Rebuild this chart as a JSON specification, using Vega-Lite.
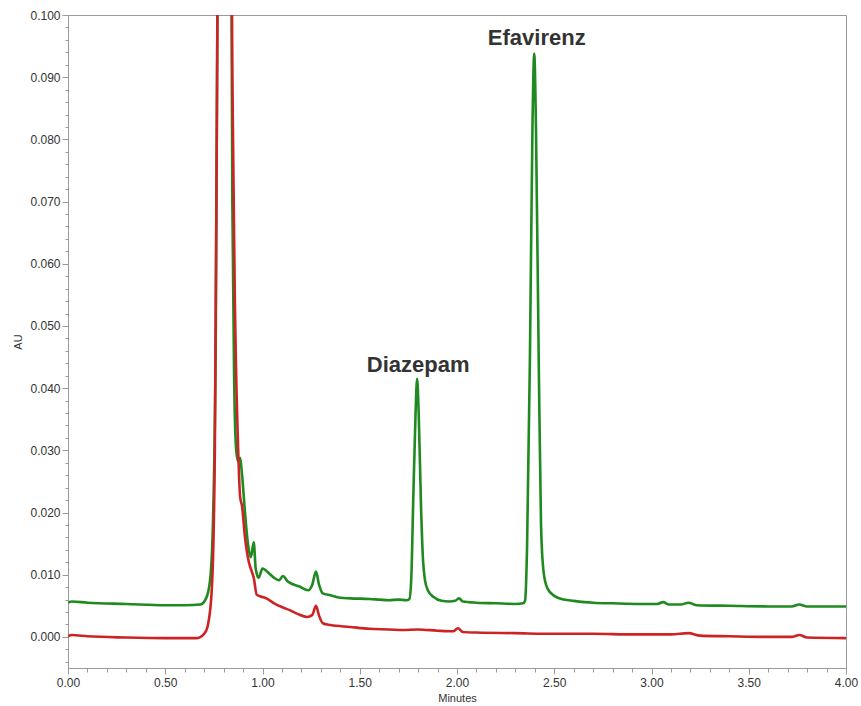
{
  "$schema": "https://vega.github.io/schema/vega-lite/v6.json",
  "width": 778,
  "height": 653,
  "autosize": {"type": "none"},
  "padding": {"left": 68, "top": 15, "right": 15, "bottom": 38},
  "background": "white",
  "config": {
    "view": {"stroke": "#9a9a9a", "strokeWidth": 1},
    "font": "Liberation Sans",
    "axis": {
      "domainColor": "#9a9a9a",
      "tickColor": "#9a9a9a",
      "labelColor": "#333333",
      "labelFontSize": 12,
      "labelFont": "Liberation Sans",
      "titleFont": "Liberation Sans",
      "titleFontSize": 11,
      "titleFontWeight": "normal",
      "titleColor": "#333333",
      "grid": false,
      "labelOverlap": false,
      "labelFlush": false
    }
  },
  "datasets": {
    "green": [
      {"t": 0.00, "au": 0.0055}, {"t": 0.02, "au": 0.0057}, {"t": 0.10, "au": 0.0055},
      {"t": 0.30, "au": 0.0053}, {"t": 0.50, "au": 0.0051}, {"t": 0.60, "au": 0.0051},
      {"t": 0.68, "au": 0.0052}, {"t": 0.71, "au": 0.0062}, {"t": 0.73, "au": 0.0090},
      {"t": 0.745, "au": 0.018}, {"t": 0.76, "au": 0.05}, {"t": 0.775, "au": 0.15},
      {"t": 0.80, "au": 0.30}, {"t": 0.835, "au": 0.15}, {"t": 0.845, "au": 0.07},
      {"t": 0.855, "au": 0.040}, {"t": 0.865, "au": 0.030}, {"t": 0.875, "au": 0.0282},
      {"t": 0.885, "au": 0.0288}, {"t": 0.895, "au": 0.026}, {"t": 0.91, "au": 0.020},
      {"t": 0.925, "au": 0.015}, {"t": 0.94, "au": 0.0128}, {"t": 0.955, "au": 0.0152},
      {"t": 0.965, "au": 0.011}, {"t": 0.98, "au": 0.0095}, {"t": 1.00, "au": 0.0110},
      {"t": 1.02, "au": 0.0106}, {"t": 1.06, "au": 0.0095}, {"t": 1.085, "au": 0.0091},
      {"t": 1.105, "au": 0.0098}, {"t": 1.13, "au": 0.0089}, {"t": 1.19, "au": 0.0081},
      {"t": 1.235, "au": 0.0075}, {"t": 1.255, "au": 0.0083}, {"t": 1.275, "au": 0.0105},
      {"t": 1.29, "au": 0.0085}, {"t": 1.31, "au": 0.0070}, {"t": 1.35, "au": 0.0067},
      {"t": 1.40, "au": 0.0063}, {"t": 1.45, "au": 0.0062}, {"t": 1.55, "au": 0.0061},
      {"t": 1.60, "au": 0.0060}, {"t": 1.65, "au": 0.0059}, {"t": 1.70, "au": 0.0060},
      {"t": 1.74, "au": 0.0059}, {"t": 1.755, "au": 0.0061}, {"t": 1.765, "au": 0.0095},
      {"t": 1.775, "au": 0.022}, {"t": 1.787, "au": 0.036}, {"t": 1.795, "au": 0.0415},
      {"t": 1.803, "au": 0.036}, {"t": 1.815, "au": 0.021}, {"t": 1.825, "au": 0.0125},
      {"t": 1.835, "au": 0.0092}, {"t": 1.85, "au": 0.0075}, {"t": 1.88, "au": 0.0064},
      {"t": 1.92, "au": 0.0058}, {"t": 1.96, "au": 0.0057}, {"t": 1.99, "au": 0.0058},
      {"t": 2.01, "au": 0.0062}, {"t": 2.03, "au": 0.0057}, {"t": 2.10, "au": 0.0055},
      {"t": 2.20, "au": 0.0054}, {"t": 2.30, "au": 0.0053}, {"t": 2.34, "au": 0.0054},
      {"t": 2.35, "au": 0.0058}, {"t": 2.36, "au": 0.014}, {"t": 2.375, "au": 0.045},
      {"t": 2.388, "au": 0.082}, {"t": 2.397, "au": 0.0938}, {"t": 2.406, "au": 0.082},
      {"t": 2.42, "au": 0.045}, {"t": 2.432, "au": 0.018}, {"t": 2.445, "au": 0.0105},
      {"t": 2.465, "au": 0.0078}, {"t": 2.50, "au": 0.0066}, {"t": 2.55, "au": 0.0060},
      {"t": 2.60, "au": 0.0058}, {"t": 2.70, "au": 0.0055}, {"t": 2.80, "au": 0.0054},
      {"t": 2.95, "au": 0.0053}, {"t": 3.03, "au": 0.0053}, {"t": 3.06, "au": 0.0056},
      {"t": 3.09, "au": 0.0052}, {"t": 3.15, "au": 0.0052}, {"t": 3.19, "au": 0.0055},
      {"t": 3.23, "au": 0.0051}, {"t": 3.40, "au": 0.0050}, {"t": 3.60, "au": 0.0049},
      {"t": 3.72, "au": 0.0049}, {"t": 3.76, "au": 0.0052}, {"t": 3.80, "au": 0.0049},
      {"t": 3.90, "au": 0.0049}, {"t": 4.00, "au": 0.0049}
    ],
    "red": [
      {"t": 0.00, "au": 0.0001}, {"t": 0.02, "au": 0.0003}, {"t": 0.10, "au": 0.0001},
      {"t": 0.30, "au": -0.0001}, {"t": 0.50, "au": -0.0002}, {"t": 0.66, "au": -0.0002},
      {"t": 0.70, "au": 0.0005}, {"t": 0.72, "au": 0.002}, {"t": 0.74, "au": 0.008},
      {"t": 0.755, "au": 0.03}, {"t": 0.77, "au": 0.11}, {"t": 0.80, "au": 0.30},
      {"t": 0.835, "au": 0.15}, {"t": 0.845, "au": 0.09}, {"t": 0.86, "au": 0.050},
      {"t": 0.875, "au": 0.030}, {"t": 0.885, "au": 0.0225}, {"t": 0.895, "au": 0.021},
      {"t": 0.91, "au": 0.016}, {"t": 0.93, "au": 0.012}, {"t": 0.945, "au": 0.0105},
      {"t": 0.955, "au": 0.0095}, {"t": 0.97, "au": 0.0068}, {"t": 0.99, "au": 0.0065},
      {"t": 1.02, "au": 0.0062}, {"t": 1.06, "au": 0.0054}, {"t": 1.10, "au": 0.0048},
      {"t": 1.14, "au": 0.0043}, {"t": 1.18, "au": 0.0037}, {"t": 1.23, "au": 0.0032},
      {"t": 1.255, "au": 0.0035}, {"t": 1.275, "au": 0.0050}, {"t": 1.29, "au": 0.0035},
      {"t": 1.31, "au": 0.0022}, {"t": 1.35, "au": 0.0019}, {"t": 1.45, "au": 0.0016},
      {"t": 1.55, "au": 0.0013}, {"t": 1.65, "au": 0.0012}, {"t": 1.72, "au": 0.0011},
      {"t": 1.80, "au": 0.0012}, {"t": 1.90, "au": 0.0010}, {"t": 1.98, "au": 0.0009},
      {"t": 2.005, "au": 0.0014}, {"t": 2.03, "au": 0.0008}, {"t": 2.10, "au": 0.0007},
      {"t": 2.30, "au": 0.0006}, {"t": 2.50, "au": 0.0005}, {"t": 2.70, "au": 0.0005},
      {"t": 2.90, "au": 0.0004}, {"t": 3.10, "au": 0.0004}, {"t": 3.19, "au": 0.0006},
      {"t": 3.25, "au": 0.0002}, {"t": 3.40, "au": 0.0001}, {"t": 3.60, "au": 0.0000},
      {"t": 3.72, "au": 0.0000}, {"t": 3.76, "au": 0.0003}, {"t": 3.80, "au": -0.0001},
      {"t": 4.00, "au": -0.0002}
    ],
    "labels": [
      {"t": 1.80, "au": 0.0437, "name": "Diazepam"},
      {"t": 2.41, "au": 0.0963, "name": "Efavirenz"}
    ]
  },
  "encoding": {
    "x": {
      "field": "t", "type": "quantitative",
      "scale": {"domain": [0, 4], "nice": false, "zero": false},
      "axis": {
        "title": "Minutes",
        "titlePadding": 4,
        "labelPadding": 3,
        "values": [0, 0.1, 0.2, 0.3, 0.4, 0.5, 0.6, 0.7, 0.8, 0.9, 1, 1.1, 1.2, 1.3, 1.4, 1.5, 1.6, 1.7, 1.8, 1.9, 2, 2.1, 2.2, 2.3, 2.4, 2.5, 2.6, 2.7, 2.8, 2.9, 3, 3.1, 3.2, 3.3, 3.4, 3.5, 3.6, 3.7, 3.8, 3.9, 4],
        "labelExpr": "abs(datum.value*2 - round(datum.value*2)) < 0.001 ? format(datum.value, '.2f') : ''",
        "tickSize": {"condition": {"test": "abs(datum.value*2 - round(datum.value*2)) < 0.001", "value": 6}, "value": 4}
      }
    },
    "y": {
      "field": "au", "type": "quantitative",
      "scale": {"domain": [-0.005, 0.1], "nice": false, "zero": false},
      "axis": {
        "title": "AU",
        "titlePadding": 6,
        "labelPadding": 2,
        "values": [-0.004, -0.002, 0, 0.002, 0.004, 0.006, 0.008, 0.01, 0.012, 0.014, 0.016, 0.018, 0.02, 0.022, 0.024, 0.026, 0.028, 0.03, 0.032, 0.034, 0.036, 0.038, 0.04, 0.042, 0.044, 0.046, 0.048, 0.05, 0.052, 0.054, 0.056, 0.058, 0.06, 0.062, 0.064, 0.066, 0.068, 0.07, 0.072, 0.074, 0.076, 0.078, 0.08, 0.082, 0.084, 0.086, 0.088, 0.09, 0.092, 0.094, 0.096, 0.098, 0.1],
        "labelExpr": "abs(datum.value*100 - round(datum.value*100)) < 0.001 ? format(datum.value, '.3f') : ''",
        "tickSize": {"condition": {"test": "abs(datum.value*100 - round(datum.value*100)) < 0.001", "value": 6}, "value": 3}
      }
    }
  },
  "layer": [
    {
      "data": {"name": "green"},
      "mark": {"type": "line", "color": "#1f8a1f", "strokeWidth": 2.6, "interpolate": "monotone", "clip": true}
    },
    {
      "data": {"name": "red"},
      "mark": {"type": "line", "color": "#cc2424", "strokeWidth": 2.6, "interpolate": "monotone", "clip": true}
    },
    {
      "data": {"name": "labels"},
      "mark": {"type": "text", "fontSize": 22, "fontWeight": "bold", "color": "#333333", "font": "Liberation Sans", "baseline": "middle", "align": "center"},
      "encoding": {"text": {"field": "name", "type": "nominal"}}
    }
  ]
}
